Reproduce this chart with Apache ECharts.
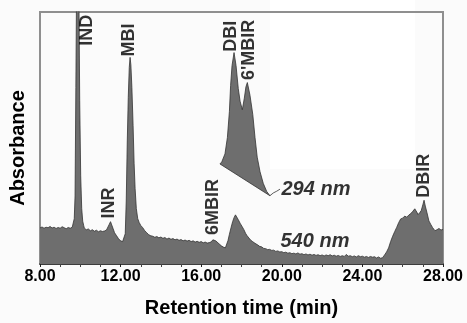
<!DOCTYPE html>
<html>
<head>
<meta charset="utf-8">
<style>
html, body { margin: 0; padding: 0; background: #fbfbfb; }
#chart { width: 467px; height: 323px; }
</style>
</head>
<body>
<div id="chart"></div>
<script src="https://cdn.jsdelivr.net/npm/echarts@6/dist/echarts.min.js"></script>
<script>
// x axis ticks (min)
var xTicks = [8, 12, 16, 20, 24, 28];

// 540 nm trace
var traceTimes = [
  8.0, 8.1, 8.2, 8.3, 8.4, 8.5, 8.6, 8.7, 8.8, 8.9, 9.0, 9.1, 9.2, 9.3, 9.4, 9.5, 9.6, 9.65,
  9.70, 9.74, 9.78, 9.81, 9.86, 9.93, 9.97, 10.02, 10.07, 10.12, 10.17,
  10.2, 10.3, 10.4, 10.5, 10.6, 10.7, 10.8, 10.9, 11.0, 11.1, 11.2, 11.3, 11.38,
  11.44, 11.5, 11.56, 11.62, 11.7, 11.8, 11.9, 12.0, 12.1, 12.18,
  12.23, 12.28, 12.33, 12.38, 12.43, 12.47, 12.51, 12.56, 12.62, 12.67, 12.72, 12.78, 12.85, 12.92,
  13.0, 13.1, 13.2, 13.3, 13.4, 13.5,
  13.6, 13.7, 13.8, 13.9, 14.0, 14.1, 14.2, 14.3, 14.4, 14.5, 14.6, 14.7, 14.8, 14.9, 15.0,
  15.1, 15.2, 15.3, 15.4, 15.5, 15.6, 15.7, 15.8, 15.9, 16.0, 16.1, 16.2, 16.3, 16.4, 16.5,
  16.58, 16.65, 16.72, 16.8, 16.9, 17.0, 17.1, 17.2, 17.25,
  17.33, 17.4, 17.48, 17.56, 17.63, 17.7, 17.76, 17.84, 17.93, 18.02, 18.12, 18.2, 18.27, 18.35,
  18.45, 18.55, 18.67, 18.8, 18.9, 19.0, 19.1, 19.2, 19.3, 19.4, 19.5, 19.6, 19.7, 19.8, 19.9,
  20.0, 20.1, 20.2, 20.3, 20.4, 20.5, 20.6, 20.7, 20.8, 20.9, 21.0, 21.1, 21.2, 21.3, 21.4,
  21.5, 21.6, 21.7, 21.8, 21.9, 22.0, 22.1, 22.2, 22.3, 22.4, 22.5, 22.6, 22.7, 22.8, 22.9,
  23.0, 23.1, 23.2, 23.3, 23.4, 23.5, 23.6, 23.7, 23.8, 23.9, 24.0, 24.1, 24.2, 24.3, 24.4,
  24.5, 24.6, 24.7, 24.8, 24.9, 25.0,
  25.1, 25.2, 25.3, 25.4, 25.5, 25.6, 25.7, 25.8, 25.9, 26.0, 26.1, 26.2, 26.3, 26.4, 26.5,
  26.6, 26.7, 26.76, 26.85, 26.92, 27.0, 27.06, 27.12, 27.2, 27.3, 27.4, 27.48, 27.6, 27.7,
  27.8, 27.9, 28.0
];
var traceValues = [
  14.3, 14.7, 14.2, 14.6, 14.4, 14.9, 14.3, 14.6, 14.1, 14.5, 14.2, 14.8, 14.4, 14.0, 14.5, 14.2, 14.6, 14.8,
  18, 27, 70, 105, 130, 108, 65, 35, 22, 17, 15.2,
  14.2, 13.6, 13.9, 13.2, 13.6, 13.0, 13.4, 12.8, 13.2, 12.9, 13.1, 13.5, 14.0,
  15.8, 16.8, 15.5, 14.2, 12.4, 11.2, 10.0, 9.2, 8.9, 9.0,
  12, 25, 48, 66, 78, 82, 79, 70, 55, 40, 30, 22, 18, 16.5,
  15.3, 14.4, 13.2, 12.4, 11.6, 11.2,
  11.0, 10.6, 10.9, 10.4, 10.7, 10.2, 10.5, 9.9, 10.3, 9.8, 10.1, 9.6, 9.9, 9.4, 9.7,
  9.2, 9.5, 9.1, 9.4, 8.9, 9.2, 8.7, 9.0, 8.6, 8.9, 8.4, 8.7, 8.3, 8.5, 8.8,
  9.6, 9.9, 9.2, 8.6, 7.9, 7.2, 6.7, 6.4, 6.6,
  9.3, 11.8, 14.4, 16.8, 18.4, 19.5, 19.0, 17.6, 16.2, 15.0, 13.6, 12.2, 11.3, 10.6,
  9.5, 8.9, 8.2, 7.6, 7.0, 6.8, 6.2, 6.1, 5.7, 5.8, 5.4, 5.5, 5.0, 5.2, 4.8,
  4.9, 4.5, 4.7, 4.3, 4.5, 4.1, 4.3, 4.0, 4.4, 3.9, 4.1, 3.7, 4.0, 3.6, 3.9,
  3.5, 3.8, 3.4, 3.7, 3.3, 3.6, 3.2, 3.6, 3.3, 3.7, 3.2, 3.5, 3.1, 3.4, 3.0,
  3.3, 3.0, 3.8, 3.1, 3.3, 2.9, 3.2, 2.8, 3.3, 2.9, 3.1, 2.7, 3.0, 2.6, 3.0,
  2.7, 2.9, 2.4, 2.8, 2.3, 2.5,
  3.6, 4.8, 6.4, 8.9, 11.0, 12.8, 14.5, 16.4, 17.9, 18.2, 19.0, 18.6, 19.4, 20.0, 20.9,
  21.9, 20.6, 19.6, 20.4, 21.2, 23.5, 25.3, 23.0, 20.5, 17.1, 15.6, 14.5, 13.2, 13.6,
  14.1, 13.5, 13.7
];

// 294 nm inset trace (drawn on a slanted baseline)
var insetTimes = [16.93, 17.02, 17.18, 17.30, 17.40, 17.46, 17.53, 17.63, 17.73, 17.84, 17.93,
  18.04, 18.14, 18.22, 18.29, 18.42, 18.56, 18.67, 18.78, 18.92, 19.08, 19.25, 19.41];
var insetValues = [39.7, 40.5, 43.7, 50.2, 60.6, 70.9, 78.7, 83.9, 78.7, 69.6, 64.6,
  61.2, 65.8, 70.3, 72.0, 67.0, 59.3, 50.2, 42.4, 36.6, 32.0, 28.8, 27.1];
var tailTimes = [19.41, 19.58, 19.75, 19.91];
var tailValues = [27.1, 28.2, 28.9, 29.7];

// peak labels
var peakNames = ['IND', 'INR', 'MBI', '6MBIR', 'DBI', "6'MBIR", 'DBIR'];
var peakTimes = [10.38, 11.47, 12.42, 16.59, 17.53, 18.42, 27.08];
var peakHeights = [86.4, 17.9, 82.1, 11.3, 84.0, 72.8, 26.1];

// wavelength labels
var waveNames = ['294 nm', '540 nm'];
var waveTimes = [20.01, 19.96];
var waveHeights = [29.2, 8.75];

var FONT = '"Liberation Sans", Arial, Helvetica, sans-serif';
var chart = echarts.init(document.getElementById('chart'), null, { renderer: 'canvas' });

var option = {
  animation: false,
  backgroundColor: '#fbfbfb',
  grid: {
    left: 40, right: 24, top: 12, bottom: 54,
    show: true, borderColor: '#8f8f8f', borderWidth: 2
  },
  graphic: [{
    type: 'rect', left: 270, top: 0, z: -1,
    shape: { width: 145, height: 169 },
    style: { fill: '#ffffff' }
  }],
  xAxis: {
    type: 'value',
    min: xTicks[0], max: xTicks[xTicks.length - 1], interval: xTicks[1] - xTicks[0],
    axisLine: { lineStyle: { color: '#222', width: 1.5 } },
    axisTick: { length: 3, lineStyle: { color: '#222' } },
    minorTick: { show: true, splitNumber: 4, length: 3, lineStyle: { color: '#444' } },
    splitLine: { show: false },
    axisLabel: {
      formatter: function (v) { return v.toFixed(2); },
      fontSize: 16, fontWeight: 'bold', color: '#000', fontFamily: FONT, margin: 5
    },
    name: 'Retention time (min)',
    nameLocation: 'middle',
    nameGap: 34,
    nameTextStyle: { fontSize: 20, fontWeight: 'bold', color: '#000', fontFamily: FONT }
  },
  yAxis: {
    type: 'value', min: 0, max: 100,
    axisLine: { show: true, lineStyle: { color: '#8f8f8f', width: 2 } },
    axisTick: { show: false },
    axisLabel: { show: false },
    splitLine: { show: false },
    name: 'Absorbance',
    nameLocation: 'middle',
    nameGap: 12,
    nameTextStyle: { fontSize: 20, fontWeight: 'bold', color: '#000', fontFamily: FONT, padding: [0, 20, 0, 0] }
  },
  series: [
    {
      type: 'line',
      data: traceTimes.map(function (t, i) { return [t, traceValues[i]]; }),
      showSymbol: false,
      lineStyle: { color: '#333', width: 0.8 },
      areaStyle: { color: '#6e6e6e', opacity: 1, origin: 'start' },
      z: 2
    },
    {
      type: 'custom',
      data: insetTimes.map(function (t, i) { return [t, insetValues[i]]; }),
      encode: { x: 0, y: 1 },
      renderItem: function (params, api) {
        if (params.dataIndex !== 0) return null;
        var pts = insetTimes.map(function (t, i) { return api.coord([t, insetValues[i]]); });
        return {
          type: 'polygon',
          shape: { points: pts },
          style: { fill: '#6e6e6e', stroke: '#333', lineWidth: 0.8 }
        };
      },
      z: 3
    },
    {
      type: 'line',
      data: tailTimes.map(function (t, i) { return [t, tailValues[i]]; }),
      showSymbol: false,
      lineStyle: { color: '#333', width: 0.8 },
      z: 3
    },
    {
      type: 'scatter',
      symbolSize: 1,
      itemStyle: { color: 'rgba(0,0,0,0)' },
      silent: true,
      data: peakTimes.map(function (t, i) { return { name: peakNames[i], value: [t, peakHeights[i]] }; }),
      label: {
        show: true, formatter: '{b}', position: [0, 0], rotate: 90,
        align: 'left', verticalAlign: 'middle',
        color: '#000', fontSize: 18, fontWeight: 'bold', fontFamily: FONT
      },
      z: 5
    },
    {
      type: 'scatter',
      symbolSize: 1,
      itemStyle: { color: 'rgba(0,0,0,0)' },
      silent: true,
      data: waveTimes.map(function (t, i) { return { name: waveNames[i], value: [t, waveHeights[i]] }; }),
      label: {
        show: true, formatter: '{b}', position: [0, 0],
        align: 'left', verticalAlign: 'middle',
        color: '#000', fontSize: 20, fontWeight: 'bold', fontStyle: 'italic', fontFamily: FONT
      },
      z: 5
    }
  ]
};

chart.setOption(option);
</script>
</body>
</html>
